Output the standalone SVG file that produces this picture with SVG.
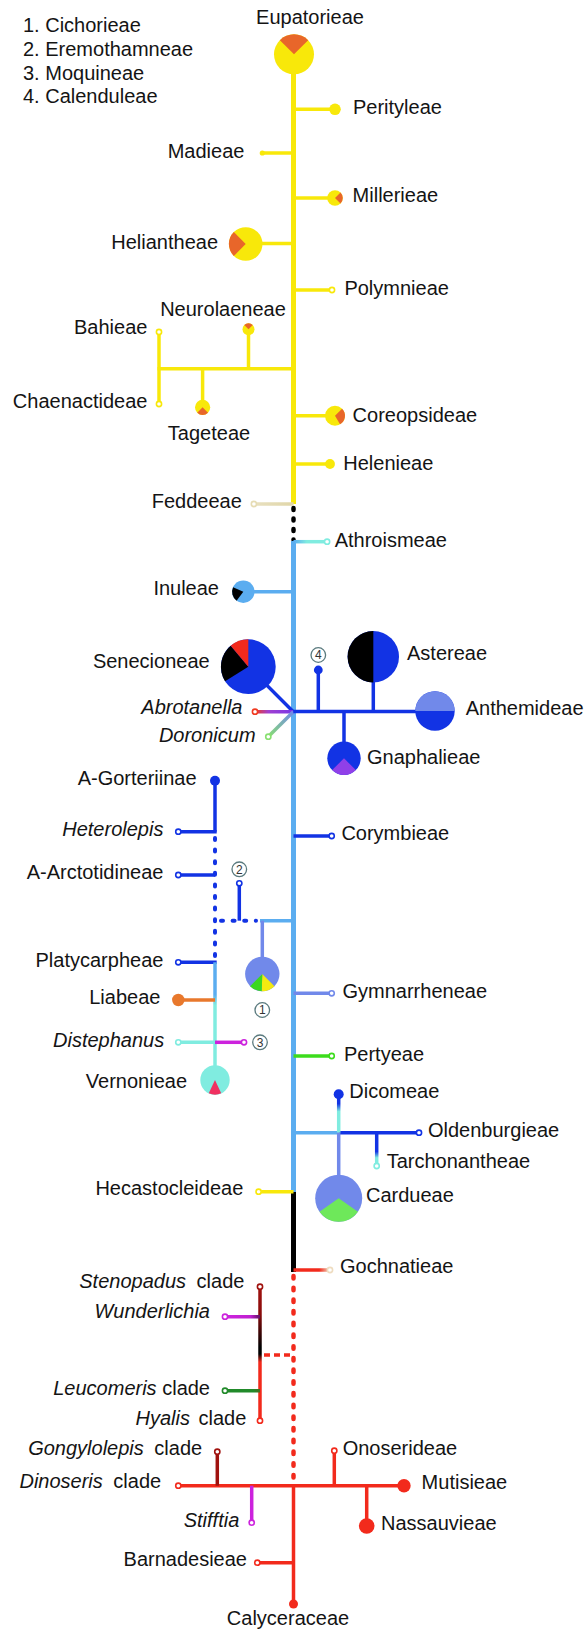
<svg xmlns="http://www.w3.org/2000/svg" width="584" height="1629" viewBox="0 0 584 1629">
<style>
.t{font-family:"Liberation Sans",Arial,sans-serif;font-size:20px;fill:#141414}
.i{font-style:italic}
.e{text-anchor:end}
.m{text-anchor:middle}
.ln{fill:none;stroke-width:3.5}
.ax{fill:none;stroke-width:5}
.oc{fill:#fff;stroke-width:1.6}
.cn{fill:#fff;stroke:#5a7a7e;stroke-width:1.3}
.ct{font-family:"Liberation Sans",Arial,sans-serif;font-size:12px;fill:#333;text-anchor:middle}
.y{stroke:#f8e80a}.yf{fill:#f8e80a}
.o{fill:#e8662a}
.lb{stroke:#5badf0}.lbf{fill:#5badf0}
.b{stroke:#1233e4}.bf{fill:#1233e4}
.p{stroke:#7189ea}.pf{fill:#7189ea}
.c{stroke:#80ece0}.cf{fill:#80ece0}
.r{stroke:#f22a1c}.rf{fill:#f22a1c}
.dr{stroke:#a0120e}
.mg{stroke:#cc22dd}
.k{stroke:#000}.kf{fill:#000}
.g{stroke:#3cdc1c}
.dg{stroke:#218a2a}
.bg{stroke:#e6dcb4}
.or{stroke:#e8782c}
</style>
<defs>
<linearGradient id="gAbr" gradientUnits="userSpaceOnUse" x1="255" y1="0" x2="293" y2="0"><stop offset="0" stop-color="#f03a20"/><stop offset="0.35" stop-color="#a040d0"/><stop offset="1" stop-color="#7a36e6"/></linearGradient>
<linearGradient id="gDor" gradientUnits="userSpaceOnUse" x1="268" y1="737" x2="293" y2="712"><stop offset="0" stop-color="#88e070"/><stop offset="1" stop-color="#7189ea"/></linearGradient>
<linearGradient id="gAth" gradientUnits="userSpaceOnUse" x1="294" y1="0" x2="326" y2="0"><stop offset="0" stop-color="#5badf0"/><stop offset="0.4" stop-color="#80ece0"/><stop offset="1" stop-color="#80ece0"/></linearGradient>
<linearGradient id="gVer" gradientUnits="userSpaceOnUse" x1="0" y1="962" x2="0" y2="1070"><stop offset="0" stop-color="#5badf0"/><stop offset="0.3" stop-color="#5badf0"/><stop offset="0.4" stop-color="#80ece0"/><stop offset="1" stop-color="#80ece0"/></linearGradient>
<linearGradient id="gDic" gradientUnits="userSpaceOnUse" x1="0" y1="1094" x2="0" y2="1133"><stop offset="0" stop-color="#1233e4"/><stop offset="0.25" stop-color="#1233e4"/><stop offset="0.45" stop-color="#80ece0"/><stop offset="1" stop-color="#80ece0"/></linearGradient>
<linearGradient id="gTar" gradientUnits="userSpaceOnUse" x1="0" y1="1133" x2="0" y2="1164"><stop offset="0" stop-color="#1233e4"/><stop offset="0.6" stop-color="#1233e4"/><stop offset="0.8" stop-color="#80ece0"/><stop offset="1" stop-color="#80ece0"/></linearGradient>
<linearGradient id="gSte" gradientUnits="userSpaceOnUse" x1="0" y1="1287" x2="0" y2="1421"><stop offset="0" stop-color="#a0120e"/><stop offset="0.2" stop-color="#8a0c0c"/><stop offset="0.45" stop-color="#000"/><stop offset="0.5" stop-color="#000"/><stop offset="0.56" stop-color="#f22a1c"/><stop offset="1" stop-color="#f22a1c"/></linearGradient>
<linearGradient id="gWun" gradientUnits="userSpaceOnUse" x1="228" y1="0" x2="260" y2="0"><stop offset="0" stop-color="#cc22dd"/><stop offset="0.7" stop-color="#c020d0"/><stop offset="1" stop-color="#601060"/></linearGradient>
<linearGradient id="gLeu" gradientUnits="userSpaceOnUse" x1="228" y1="0" x2="260" y2="0"><stop offset="0" stop-color="#218a2a"/><stop offset="0.8" stop-color="#218a2a"/><stop offset="1" stop-color="#4a6a20"/></linearGradient>
<linearGradient id="gGoc" gradientUnits="userSpaceOnUse" x1="294" y1="0" x2="330" y2="0"><stop offset="0" stop-color="#f22a1c"/><stop offset="0.7" stop-color="#f22a1c"/><stop offset="1" stop-color="#eedcc0"/></linearGradient>
<linearGradient id="gFed" gradientUnits="userSpaceOnUse" x1="254" y1="0" x2="294" y2="0"><stop offset="0" stop-color="#e8e0c0"/><stop offset="1" stop-color="#e0d6a8"/></linearGradient>
</defs>

<g id="connectors">
<line class="ax y" x1="293.5" y1="54" x2="293.5" y2="504"/>
<line x1="293.5" y1="508" x2="293.5" y2="540" stroke="#000" stroke-width="4.5" stroke-linecap="round" stroke-dasharray="2 8.5"/>
<line class="ax lb" x1="293.5" y1="541" x2="293.5" y2="1192"/>
<line class="ax k" x1="293.5" y1="1192" x2="293.5" y2="1272"/>
<line x1="293.5" y1="1276" x2="293.5" y2="1482" stroke="#f22a1c" stroke-width="4.5" stroke-linecap="round" stroke-dasharray="2.5 9.2"/>
<line class="ln r" stroke-width="4.5" x1="293.5" y1="1485.7" x2="293.5" y2="1604"/>
<line class="ln y" x1="293.5" y1="109.3" x2="335" y2="109.3"/>
<line class="ln y" x1="262.3" y1="153" x2="293.5" y2="153"/>
<line class="ln y" x1="293.5" y1="198" x2="335" y2="198"/>
<line class="ln y" x1="245.7" y1="243.5" x2="293.5" y2="243.5"/>
<line class="ln y" x1="293.5" y1="290" x2="329.5" y2="290"/>
<line class="ln y" x1="157.5" y1="368.7" x2="293.5" y2="368.7"/>
<line class="ln y" stroke-width="3" x1="159" y1="335" x2="159" y2="401"/>
<line class="ln y" x1="248.5" y1="329.3" x2="248.5" y2="368.7"/>
<line class="ln y" x1="202.6" y1="368.7" x2="202.6" y2="407.3"/>
<line class="ln y" x1="293.5" y1="415.7" x2="335" y2="415.7"/>
<line class="ln y" x1="293.5" y1="464" x2="330" y2="464"/>
<line class="ln" stroke="url(#gFed)" x1="256.5" y1="504" x2="293.5" y2="504"/>
<line class="ln" stroke="url(#gAth)" x1="293.5" y1="541.7" x2="324.5" y2="541.7"/>
<line class="ln lb" stroke-width="4" x1="243.3" y1="591.7" x2="293.5" y2="591.7"/>
<line class="ln b" stroke-width="4" x1="248.3" y1="666.7" x2="293.3" y2="711.7"/>
<line class="ln" stroke="url(#gAbr)" x1="257.6" y1="711.7" x2="293.3" y2="711.7"/>
<line class="ln" stroke="url(#gDor)" x1="270.2" y1="734.8" x2="293.3" y2="711.7"/>
<line class="ln b" stroke-width="4" x1="293.3" y1="711.5" x2="435" y2="711.5"/>
<line class="ln b" x1="318.3" y1="711.5" x2="318.3" y2="670"/>
<line class="ln b" x1="373.3" y1="711.5" x2="373.3" y2="656.7"/>
<line class="ln b" x1="344" y1="711.5" x2="344" y2="758.3"/>
<line class="ln b" x1="215" y1="780.7" x2="215" y2="831.7"/>
<line class="ln b" x1="181" y1="831.7" x2="216.7" y2="831.7"/>
<line x1="215" y1="838" x2="215" y2="960" stroke="#1233e4" stroke-width="4" stroke-linecap="round" stroke-dasharray="2 9.6"/>
<line class="ln b" x1="181" y1="875" x2="215" y2="875"/>
<line class="ln b" x1="181" y1="962.3" x2="216.7" y2="962.3"/>
<line x1="221" y1="920.7" x2="256" y2="920.7" stroke="#1233e4" stroke-width="4" stroke-linecap="round" stroke-dasharray="2 9.6"/>
<line class="ln b" x1="239.3" y1="920.7" x2="239.3" y2="886"/>
<line class="ln lb" x1="260" y1="920.7" x2="293.5" y2="920.7"/>
<line class="ln p" x1="262.3" y1="920.7" x2="262.3" y2="974"/>
<line class="ln b" x1="293.5" y1="836" x2="329" y2="836"/>
<line class="ln" stroke="url(#gVer)" x1="215" y1="962.3" x2="215" y2="1080"/>
<line class="ln or" x1="178.3" y1="1000" x2="215" y2="1000"/>
<line class="ln c" x1="181" y1="1042.3" x2="215" y2="1042.3"/>
<line class="ln mg" x1="215" y1="1042.3" x2="241.4" y2="1042.3"/>
<line class="ln p" x1="293.5" y1="993.3" x2="329" y2="993.3"/>
<line class="ln g" x1="293.5" y1="1056" x2="329" y2="1056"/>
<line class="ln lb" x1="293.5" y1="1132.7" x2="338.7" y2="1132.7"/>
<line class="ln b" x1="338.7" y1="1132.7" x2="416.4" y2="1132.7"/>
<line class="ln" stroke="url(#gDic)" x1="338.7" y1="1094.3" x2="338.7" y2="1132.7"/>
<line class="ln p" x1="338.7" y1="1132.7" x2="338.7" y2="1198.3"/>
<line class="ln" stroke="url(#gTar)" x1="376.7" y1="1132.7" x2="376.7" y2="1163.4"/>
<line class="ln y" x1="261.2" y1="1191.7" x2="293.5" y2="1191.7"/>
<line class="ln" stroke="url(#gGoc)" x1="293.5" y1="1270" x2="327.4" y2="1270"/>
<line class="ln" stroke="url(#gSte)" x1="260" y1="1289.3" x2="260" y2="1418.1"/>
<line class="ln" stroke="url(#gWun)" x1="227.6" y1="1316.7" x2="260" y2="1316.7"/>
<line x1="264" y1="1355" x2="293.5" y2="1355" stroke="#f22a1c" stroke-width="3.5" stroke-dasharray="6 4"/>
<line class="ln" stroke="url(#gLeu)" x1="227.6" y1="1390.7" x2="260" y2="1390.7"/>
<line class="ln r" stroke-width="4" x1="180.9" y1="1485.7" x2="404" y2="1485.7"/>
<line class="ln dr" x1="217.3" y1="1485.7" x2="217.3" y2="1454.3"/>
<line class="ln mg" x1="251.7" y1="1485.7" x2="251.7" y2="1520.1"/>
<line class="ln r" x1="334.3" y1="1485.7" x2="334.3" y2="1453.3"/>
<line class="ln r" x1="366.7" y1="1485.7" x2="366.7" y2="1526"/>
<line class="ln r" x1="259.9" y1="1562.7" x2="293.5" y2="1562.7"/>
</g>

<g id="legend">
<text class="t" x="23" y="31.7">1. Cichorieae</text>
<text class="t" x="23" y="55.7">2. Eremothamneae</text>
<text class="t" x="23" y="79.5">3. Moquineae</text>
<text class="t" x="23" y="102.8">4. Calenduleae</text>
</g>

<g id="Eupatorieae"><circle class="yf" cx="294" cy="54.3" r="20"/><path class="o" d="M294,54.3 L279.86,40.16 A20,20 0 0,1 308.14,40.16 Z"/><text class="t m" x="310" y="24">Eupatorieae</text></g>
<g id="Perityleae"><circle class="yf" cx="335" cy="109.3" r="5.8"/><text class="t" x="353" y="114">Perityleae</text></g>
<g id="Madieae"><circle class="yf" cx="262.3" cy="153" r="2.6"/><text class="t e" x="244.4" y="157.7">Madieae</text></g>
<g id="Millerieae"><circle class="yf" cx="335" cy="198" r="7.8"/><path class="o" d="M335,198 L340.5,192.5 A7.8,7.8 0 0,1 340.5,203.5 Z"/><text class="t" x="352.6" y="202">Millerieae</text></g>
<g id="Heliantheae"><circle class="yf" cx="245.7" cy="244" r="16.8"/><path class="o" d="M245.7,244 L233.82,255.88 A16.8,16.8 0 0,1 233.82,232.12 Z"/><text class="t e" x="218" y="248.7">Heliantheae</text></g>
<g id="Polymnieae"><circle class="oc y" cx="332" cy="290" r="2.6"/><text class="t" x="344.4" y="295">Polymnieae</text></g>
<g id="Neurolaeneae"><circle class="yf" cx="248.5" cy="329.3" r="6"/><path class="o" d="M248.5,329.3 L244.26,325.06 A6,6 0 0,1 252.74,325.06 Z"/><text class="t m" x="223" y="316">Neurolaeneae</text></g>
<g id="Bahieae"><circle class="oc y" cx="159" cy="332" r="2.6"/><text class="t e" x="147.4" y="334">Bahieae</text></g>
<g id="Chaenactideae"><circle class="oc y" cx="159" cy="404" r="2.6"/><text class="t e" x="147.4" y="408.3">Chaenactideae</text></g>
<g id="Tageteae"><circle class="yf" cx="202.6" cy="407.3" r="7.6"/><path class="o" d="M202.6,407.3 L207.97,412.67 A7.6,7.6 0 0,1 197.23,412.67 Z"/><text class="t m" x="209" y="440">Tageteae</text></g>
<g id="Coreopsideae"><circle class="yf" cx="335" cy="415.7" r="10"/><path class="o" d="M335,415.7 L342.07,408.63 A10,10 0 0,1 340,424.36 Z"/><text class="t" x="352.6" y="421.7">Coreopsideae</text></g>
<g id="Helenieae"><circle class="yf" cx="330" cy="464" r="4.9"/><text class="t" x="343.3" y="470">Helenieae</text></g>
<g id="Feddeeae"><circle class="oc bg" cx="253.9" cy="504" r="2.6"/><text class="t e" x="241.8" y="508.3">Feddeeae</text></g>
<g id="Athroismeae"><circle class="oc c" cx="327.1" cy="541.7" r="2.6"/><text class="t" x="334.7" y="546.7">Athroismeae</text></g>
<g id="Inuleae"><circle class="lbf" cx="243.3" cy="591.7" r="11.2"/><path class="kf" d="M243.3,591.7 L236.56,600.64 A11.2,11.2 0 0,1 233.07,587.14 Z"/><text class="t e" x="219" y="595">Inuleae</text></g>
<g id="Senecioneae"><circle class="bf" cx="248.3" cy="666.7" r="27.4"/><path class="kf" d="M248.3,666.7 L225.06,681.22 A27.4,27.4 0 0,1 230.69,645.71 Z"/><path class="rf" d="M248.3,666.7 L230.69,645.71 A27.4,27.4 0 0,1 248.3,639.3 Z"/><text class="t e" x="209.7" y="667.7">Senecioneae</text></g>
<g id="Abrotanella"><circle class="oc" stroke="#f03a20" cx="255" cy="711.7" r="2.6"/><text class="t i e" x="242.5" y="714.3">Abrotanella</text></g>
<g id="Doronicum"><circle class="oc" stroke="#88e070" cx="268.3" cy="736.7" r="2.6"/><text class="t i e" x="255.6" y="741.7">Doronicum</text></g>
<g id="Calenduleae"><circle class="bf" cx="318.3" cy="670" r="4.4"/><circle class="cn" cx="318.3" cy="655" r="7.3"/><text class="ct" x="318.3" y="659.3">4</text></g>
<g id="Astereae"><circle class="bf" cx="373.3" cy="656.7" r="25.7"/><path class="kf" d="M373.3,631 A25.7,25.7 0 0,0 373.3,682.4 Z"/><text class="t" x="407" y="660">Astereae</text></g>
<g id="Anthemideae"><circle class="bf" cx="435" cy="711" r="19.7"/><path class="pf" d="M415.3,711 A19.7,19.7 0 0,1 454.7,711 Z"/><text class="t" x="465.7" y="715">Anthemideae</text></g>
<g id="Gnaphalieae"><circle class="bf" cx="344" cy="758.3" r="16.7"/><path fill="#9040e8" d="M344,758.3 L355.81,770.11 A16.7,16.7 0 0,1 332.19,770.11 Z"/><text class="t" x="367" y="764">Gnaphalieae</text></g>
<g id="A-Gorteriinae"><circle class="bf" cx="215" cy="780.7" r="5"/><text class="t e" x="196.6" y="785">A-Gorteriinae</text></g>
<g id="Heterolepis"><circle class="oc b" cx="178.3" cy="831.7" r="2.6"/><text class="t i e" x="163.4" y="836">Heterolepis</text></g>
<g id="Corymbieae"><circle class="oc b" cx="331.7" cy="836" r="2.6"/><text class="t" x="341.4" y="840">Corymbieae</text></g>
<g id="A-Arctotidineae"><circle class="oc b" cx="178.3" cy="875" r="2.6"/><text class="t e" x="163.4" y="879">A-Arctotidineae</text></g>
<g id="Eremothamneae"><circle class="oc b" cx="239.3" cy="883.3" r="2.6"/><circle class="cn" cx="239.3" cy="869.3" r="7.3"/><text class="ct" x="239.3" y="873.6">2</text></g>
<g id="Cichorieae"><circle class="pf" cx="262.3" cy="974" r="17.2"/><path fill="#f4ea10" d="M262.3,974 L274.46,986.16 A17.2,17.2 0 0,1 261.7,991.19 Z"/><path fill="#3ad820" d="M262.3,974 L261.7,991.19 A17.2,17.2 0 0,1 250.14,986.16 Z"/><circle class="cn" cx="262.3" cy="1010" r="7.3"/><text class="ct" x="262.3" y="1014.3">1</text></g>
<g id="Platycarpheae"><circle class="oc b" cx="178.3" cy="962.3" r="2.6"/><text class="t e" x="163.4" y="966.7">Platycarpheae</text></g>
<g id="Gymnarrheneae"><circle class="oc p" cx="331.7" cy="993.3" r="2.6"/><text class="t" x="342.5" y="998.3">Gymnarrheneae</text></g>
<g id="Liabeae"><circle fill="#e8782c" cx="178.3" cy="1000" r="6.2"/><text class="t e" x="160.4" y="1004.3">Liabeae</text></g>
<g id="Distephanus"><circle class="oc c" cx="178.3" cy="1042.3" r="2.6"/><text class="t i e" x="164.2" y="1046.7">Distephanus</text></g>
<g id="Moquineae"><circle class="oc mg" cx="244" cy="1042.3" r="2.6"/><circle class="cn" cx="260" cy="1042.3" r="7.3"/><text class="ct" x="260" y="1046.6">3</text></g>
<g id="Pertyeae"><circle class="oc g" cx="331.7" cy="1056" r="2.6"/><text class="t" x="344" y="1060.7">Pertyeae</text></g>
<g id="Vernonieae"><circle class="cf" cx="215" cy="1080" r="14.7"/><path fill="#f03060" d="M215,1080 L221.21,1093.32 A14.7,14.7 0 0,1 208.79,1093.32 Z"/><text class="t e" x="187" y="1087.7">Vernonieae</text></g>
<g id="Dicomeae"><circle class="bf" cx="338.7" cy="1094.3" r="5"/><text class="t" x="349.3" y="1098.3">Dicomeae</text></g>
<g id="Oldenburgieae"><circle class="oc b" cx="419" cy="1132.7" r="2.6"/><text class="t" x="428" y="1136.7">Oldenburgieae</text></g>
<g id="Tarchonantheae"><circle class="oc c" cx="376.7" cy="1166" r="2.6"/><text class="t" x="386.7" y="1168.3">Tarchonantheae</text></g>
<g id="Cardueae"><circle class="pf" cx="338.7" cy="1198.3" r="23.5"/><path fill="#6ee85a" d="M338.7,1198.3 L357.95,1211.78 A23.5,23.5 0 0,1 319.45,1211.78 Z"/><text class="t" x="366" y="1201.7">Cardueae</text></g>
<g id="Hecastocleideae"><circle class="oc y" cx="258.6" cy="1191.7" r="2.6"/><text class="t e" x="243.3" y="1195">Hecastocleideae</text></g>
<g id="Gochnatieae"><circle class="oc" stroke="#eedcc0" cx="330" cy="1270" r="2.6"/><text class="t" x="340" y="1273.3">Gochnatieae</text></g>
<g id="Stenopadus"><circle class="oc dr" cx="260" cy="1286.7" r="2.6"/><text class="t e" x="244.4" y="1288.3"><tspan class="i">Stenopadus</tspan><tspan dx="5"> clade</tspan></text></g>
<g id="Wunderlichia"><circle class="oc mg" cx="225" cy="1316.7" r="2.6"/><text class="t i e" x="210" y="1318.3">Wunderlichia</text></g>
<g id="Leucomeris"><circle class="oc dg" cx="225" cy="1390.7" r="2.6"/><text class="t e" x="210" y="1395"><tspan class="i">Leucomeris</tspan> clade</text></g>
<g id="Hyalis"><circle class="oc r" cx="260" cy="1420.7" r="2.6"/><text class="t e" x="246.3" y="1425"><tspan class="i">Hyalis</tspan><tspan dx="3"> clade</tspan></text></g>
<g id="Gongylolepis"><circle class="oc dr" cx="217.3" cy="1451.7" r="2.6"/><text class="t e" x="202.2" y="1455"><tspan class="i">Gongylolepis</tspan><tspan dx="5"> clade</tspan></text></g>
<g id="Onoserideae"><circle class="oc r" cx="334.3" cy="1450.7" r="2.6"/><text class="t" x="342.7" y="1455">Onoserideae</text></g>
<g id="Dinoseris"><circle class="oc r" cx="178.3" cy="1485.7" r="2.6"/><text class="t e" x="161.2" y="1488.3"><tspan class="i">Dinoseris</tspan><tspan dx="5"> clade</tspan></text></g>
<g id="Mutisieae"><circle class="rf" cx="404" cy="1485.7" r="6.7"/><text class="t" x="421.6" y="1489.3">Mutisieae</text></g>
<g id="Stifftia"><circle class="oc mg" cx="251.7" cy="1522.7" r="2.6"/><text class="t i e" x="239.3" y="1526.7">Stifftia</text></g>
<g id="Nassauvieae"><circle class="rf" cx="366.7" cy="1526" r="7.8"/><text class="t" x="381" y="1530">Nassauvieae</text></g>
<g id="Barnadesieae"><circle class="oc r" cx="257.3" cy="1562.7" r="2.6"/><text class="t e" x="247" y="1566">Barnadesieae</text></g>
<g id="Calyceraceae"><circle class="rf" cx="293.5" cy="1604" r="4.5"/><text class="t m" x="288" y="1625">Calyceraceae</text></g>
</svg>
